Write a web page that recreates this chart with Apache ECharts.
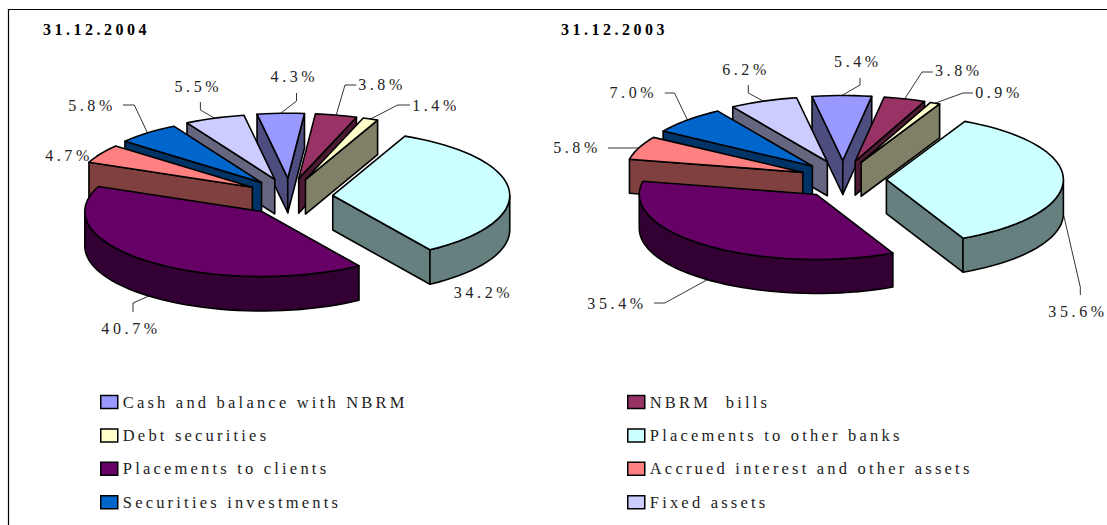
<!DOCTYPE html>
<html><head><meta charset="utf-8">
<style>
html,body{margin:0;padding:0;background:#fff}
#c{width:1107px;height:525px}
#c text{letter-spacing:3.6px;white-space:pre}
#c text[style*="bold"]{letter-spacing:3.5px}
#c text[style*="16.5px"]{letter-spacing:3.2px}
</style>
<script src="https://cdn.jsdelivr.net/npm/echarts@6/dist/echarts.min.js"></script>
</head><body><div id="c"></div>
<script>
// ---- data ----
const categories = ['Cash and balance with NBRM','NBRM  bills','Debt securities','Placements to other banks',
  'Placements to clients','Accrued interest and other assets','Securities investments','Fixed assets'];
const values2004 = [4.3,3.8,1.4,34.2,40.7,4.7,5.8,5.5];
const values2003 = [5.4,3.8,0.9,35.6,35.4,5.8,7.0,6.2];
const chartTitles = ['31.12.2004','31.12.2003'];
const colors = ['#9999FF','#993366','#FFFFCC','#CCFFFF','#660066','#FF8080','#0066CC','#CCCCFF'];

// ---- layout ----
const START_ANGLE = -100;
const pies = [
  {cx:289.5,cy:197,a:177,b:65,ex:43.4,ey:18.8,depth:34.5},
  {cx:843,cy:179.5,a:177,b:65,ex:43.4,ey:19,depth:34}
];
// text centre [x,y], then leader elbow and leader end (null = no leader drawn)
const labels2004 = [
  [[294.4,76],[296.5,101],[296.5,93]],[[382,84],[345,85],[356.4,85]],[[436,105],[397.7,105],[410,105]],
  [[483.5,292],null,null],[[131,328],[133,303],[133,312]],[[69,155],null,null],
  [[92,105],[134.3,105],[123,105]],[[198.3,86],[200.4,110],[200.4,102]]
];
const labels2003 = [
  [[857.9,61.5],[860,85],[860,78]],[[958.8,70],[922,72],[932.8,72]],[[999,92.5],[963,93],[973,93]],
  [[1078,311],[1080.3,287],[1080.3,295]],[[617,303],[664.8,303],[654,303]],[[577,147],[632,148],[608,148]],
  [[633.3,92],[674.5,93],[664.8,93]],[[746,69.5],[748.3,93],[748.3,85]]
];
const FONT = '"Liberation Serif","Times New Roman",serif';
const rad = d => d*Math.PI/180;
const dark = hex => '#'+[1,3,5].map(i=>Math.round(parseInt(hex.substr(i,2),16)*0.5).toString(16).padStart(2,'0')).join('');

function slices(vals){
  const total = vals.reduce((s,v)=>s+v,0);
  let t = START_ANGLE;
  return vals.map(v=>{const s=t; t+=v/total*360; return {start:s,end:t,mid:(s+t)/2};});
}
function renderSlice(chartIdx,catIdx,vals,lbls){
  return function(){
    const p = pies[chartIdx], sl = slices(vals)[catIdx], col = colors[catIdx], side = dark(col);
    const m = rad(sl.mid);
    const ax = p.cx+p.ex*Math.cos(m), ay = p.cy+p.ey*Math.sin(m);
    const pt = (d,dz)=>[ax+p.a*Math.cos(rad(d)), ay+p.b*Math.sin(rad(d))+(dz||0)];
    const arc = (from,to,dz)=>{const out=[],n=Math.max(2,Math.ceil(Math.abs(to-from)/3));
      for(let i=0;i<=n;i++)out.push(pt(from+(to-from)*i/n,dz));return out;};
    const line = {stroke:'#000',lineWidth:1.6,lineJoin:'round'};
    const kids = [];
    const poly = (pts,fill)=>kids.push({type:'polygon',shape:{points:pts},style:Object.assign({fill},line)});
    // radial walls that face the viewer
    if(Math.cos(rad(sl.start))<0){const q=pt(sl.start);poly([[ax,ay],q,[q[0],q[1]+p.depth],[ax,ay+p.depth]],side);}
    if(Math.cos(rad(sl.end))>0){const q=pt(sl.end);poly([[ax,ay],q,[q[0],q[1]+p.depth],[ax,ay+p.depth]],side);}
    // outer wall, visible between 0 and 180 degrees
    const lo=Math.max(sl.start,0), hi=Math.min(sl.end,180);
    if(hi>lo) poly(arc(lo,hi,0).concat(arc(hi,lo,p.depth)),side);
    // top face
    poly([[ax,ay]].concat(arc(sl.start,sl.end,0)),col);
    // leader and label
    const [txt,elbow,end] = lbls[catIdx];
    if(elbow){
      const an = pt(sl.mid, Math.sin(m)>0?p.depth:0);
      kids.push({type:'polyline',shape:{points:[an,elbow,end]},style:{stroke:'#000',lineWidth:0.8,fill:'none'}});
    }
    kids.push({type:'text',x:txt[0],y:txt[1],style:{text:vals[catIdx].toFixed(1)+'%',fill:'#222',
      font:'16px '+FONT,align:'center',verticalAlign:'middle'}});
    return {type:'group',children:kids};
  };
}
const series = [];
[[values2004,labels2004],[values2003,labels2003]].forEach(([vals,lbls],ci)=>{
  const sl = slices(vals);
  categories.map((c,i)=>i).sort((x,y)=>Math.sin(rad(sl[x].mid))-Math.sin(rad(sl[y].mid))).forEach(i=>{
    series.push({type:'custom',name:categories[i],coordinateSystem:'none',silent:true,animation:false,
      clip:false,itemStyle:{color:colors[i]},data:[vals[i]],renderItem:renderSlice(ci,i,vals,lbls)});
  });
});
const legendBase = {orient:'vertical',icon:'rect',itemWidth:17,itemHeight:13,itemGap:16.4,top:393.5,height:200,padding:0,
  itemStyle:{borderColor:'#000',borderWidth:1.5},selectedMode:false,
  textStyle:{fontFamily:FONT,fontSize:16.5,color:'#222'}};
const chart = echarts.init(document.getElementById('c'),null,{renderer:'svg'});
chart.setOption({
  animation:false,backgroundColor:'#fff',
  title:chartTitles.map((t,i)=>({text:t,left:[43,561][i],top:21,padding:0,
    textStyle:{fontFamily:FONT,fontSize:16,fontWeight:'bold',color:'#000'}})),
  legend:[
    Object.assign({},legendBase,{left:100,data:categories.filter((c,i)=>i%2===0)}),
    Object.assign({},legendBase,{left:627,data:categories.filter((c,i)=>i%2===1)})
  ],
  graphic:[{type:'polyline',silent:true,shape:{points:[[8.5,525],[8.5,9.5],[1107,9.5]]},
    style:{stroke:'#000',lineWidth:1.2,fill:'none'}}],
  series
});
</script></body></html>
